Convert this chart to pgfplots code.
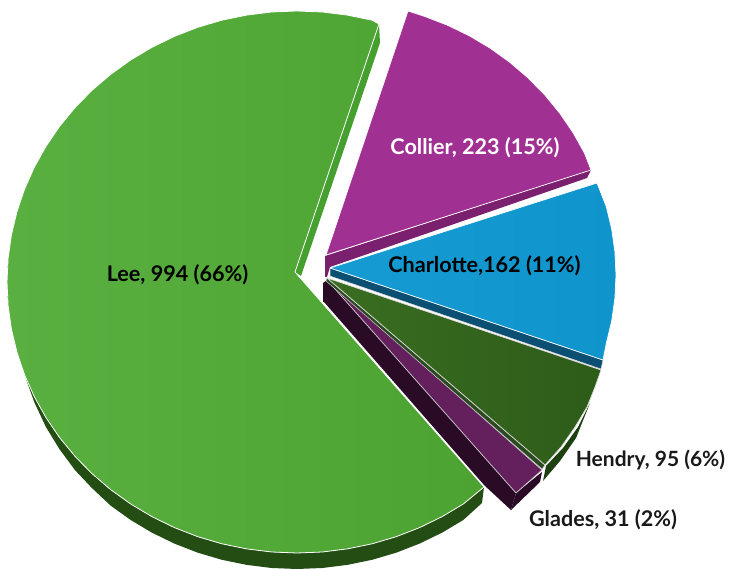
\documentclass[border=0pt]{standalone}
\usepackage{fontspec}
\setmainfont{Lato}
\usepackage{pgfplots}
\pgfplotsset{compat=1.18}
\definecolor{leeA}{HTML}{59B040}
\definecolor{leeB}{HTML}{4DA331}
\definecolor{leeW}{HTML}{234D13}
\definecolor{leeS}{HTML}{46A030}
\definecolor{colA}{HTML}{A03193}
\definecolor{colW}{HTML}{7B206F}
\definecolor{chaA}{HTML}{169CD2}
\definecolor{chaB}{HTML}{0F94CC}
\definecolor{chaW}{HTML}{0B4F73}
\definecolor{henA}{HTML}{3A6D21}
\definecolor{henB}{HTML}{2D5C19}
\definecolor{henW}{HTML}{1C4010}
\definecolor{glaA}{HTML}{63205D}
\definecolor{glaW}{HTML}{290B26}
\begin{document}
\begin{tikzpicture}
\useasboundingbox (0,0) rectangle (729pt,569pt);
\begin{axis}[
  at={(0,0)}, anchor=south west,
  width=729pt, height=569pt, scale only axis,
  xmin=0, xmax=729, ymin=0, ymax=569, y dir=reverse,
  hide axis, clip=true,
  every axis plot/.append style={no markers, line join=round},
]
% Lee wall
\addplot[draw=none, fill=leeW] coordinates {
(24.5,374.7)(34.2,396.5)(45.9,417.5)(59.4,437.4)(74.9,456.2)(91.9,473.6)(110.6,489.6)(130.7,504)(152,516.7)(174.4,527.6)(197.8,536.7)(221.9,543.8)(246.7,548.9)(271.7,552)(297,553)(322.3,552)(347.3,548.9)(372.1,543.8)(396.2,536.7)(419.6,527.6)(442,516.7)(463.3,504)(484,487)
(482,503)(463.3,520)(442,532.7)(419.6,543.6)(396.2,552.7)(372.1,559.8)(347.3,564.9)(322.3,568)(297,569)(271.7,568)(246.7,564.9)(221.9,559.8)(197.8,552.7)(174.4,543.6)(152,532.7)(130.7,520)(110.6,505.6)(91.9,488)(74.9,470)(59.4,449)(45.9,427)(34.2,402)
} -- cycle;
% Lee side strip
\addplot[draw=none, fill=leeS] coordinates {(295,272)(379,24)(380,43)(301,276)} -- cycle;
% Lee top
\addplot[draw=white, line width=0.8pt, left color=leeA, right color=leeB] coordinates {
(295,272)(379,24)(372.1,20.2)(347.3,15.1)(322.3,12)(297,11)(271.7,12)(246.7,15.1)(221.9,20.2)(197.8,27.3)(174.4,36.4)(152,47.3)(130.7,60)(110.6,74.4)(91.9,90.4)(74.9,107.8)(59.4,126.6)(45.9,146.5)(34.2,167.5)(24.5,189.3)(16.9,211.9)(11.4,235)(8.1,258.4)(7,282)(8.1,305.6)(11.4,329)(16.9,352.1)(24.5,374.7)(34.2,396.5)(45.9,417.5)(59.4,437.4)(74.9,456.2)(91.9,473.6)(110.6,489.6)(130.7,504)(152,516.7)(174.4,527.6)(197.8,536.7)(221.9,543.8)(246.7,548.9)(271.7,552)(297,553)(322.3,552)(347.3,548.9)(372.1,543.8)(396.2,536.7)(419.6,527.6)(442,516.7)(463.3,504)(484,487)
} -- cycle;
% Glades walls
\addplot[draw=none, fill=glaW] coordinates {(323,283)(327,280)(516,493)(511,510)(484.5,485.5)(324,302)(323,302)} -- cycle;
\addplot[draw=none, fill=glaW] coordinates {(516,493)(542,472)(540,482)(511,510)} -- cycle;
% Glades top
\addplot[draw=white!80!black, line width=0.7pt, fill=glaA] coordinates {(327,280)(542,470)(516,493)} -- cycle;
% Hendry walls
\addplot[draw=none, fill=henW] coordinates {(590,403)(578,427)(563,448)(546,466)(543,481)(560,461)(576,438)} -- cycle;
\addplot[draw=white!80!black, line width=0.5pt, fill=henW!85!gray] coordinates {(327,278)(545,465)(542,469)(326,281)} -- cycle;
% Hendry top
\addplot[draw=white!85!black, line width=0.7pt, left color=henA, right color=henB] coordinates {(327,278)(601,370)(595,387)(587,407)(575,427)(561,447)(545,465)} -- cycle;
% Charlotte wall
\addplot[draw=white!85!black, line width=0.5pt, fill=chaW] coordinates {(330,268)(603,360)(601,369)(330,276)} -- cycle;
% Collier wall
\addplot[draw=none, fill=colW] coordinates {(325,256)(591,170)(587,178)(330,267)(327,277)(325,277)} -- cycle;
% Charlotte top
\addplot[draw=white, line width=0.7pt, left color=chaA, right color=chaB] coordinates {(330,268)(597,183)(606.3,206.7)(611.7,229.2)(614.9,252)(616,275)(614.9,298)(611.7,320.8)(606.3,343.3)(603,360)} -- cycle;
% Collier top
\addplot[draw=white, line width=0.7pt, fill=colA] coordinates {(326,255)(408,11)(424.8,16.5)(447.6,25.3)(469.5,35.9)(490.3,48.3)(509.9,62.4)(528.1,78)(544.8,95)(559.8,113.3)(573.1,132.8)(584.5,153.2)(591,170)} -- cycle;
% Labels
\node[font=\bfseries\fontsize{21.6}{21.6}\selectfont, text=black] at (axis cs:177.5,275) {Lee, 994 (66\%)};
\node[font=\bfseries\fontsize{21.6}{21.6}\selectfont, text=white] at (axis cs:475,148) {Collier, 223 (15\%)};
\node[font=\bfseries\fontsize{21.6}{21.6}\selectfont, text=black] at (axis cs:484.5,265.5) {Charlotte,162 (11\%)};
\node[font=\bfseries\fontsize{21}{21}\selectfont, text=black!90] at (axis cs:650.5,460) {Hendry, 95 (6\%)};
\node[font=\bfseries\fontsize{21.6}{21.6}\selectfont, text=black!90] at (axis cs:603,520) {Glades, 31 (2\%)};
\end{axis}
\end{tikzpicture}
\end{document}
